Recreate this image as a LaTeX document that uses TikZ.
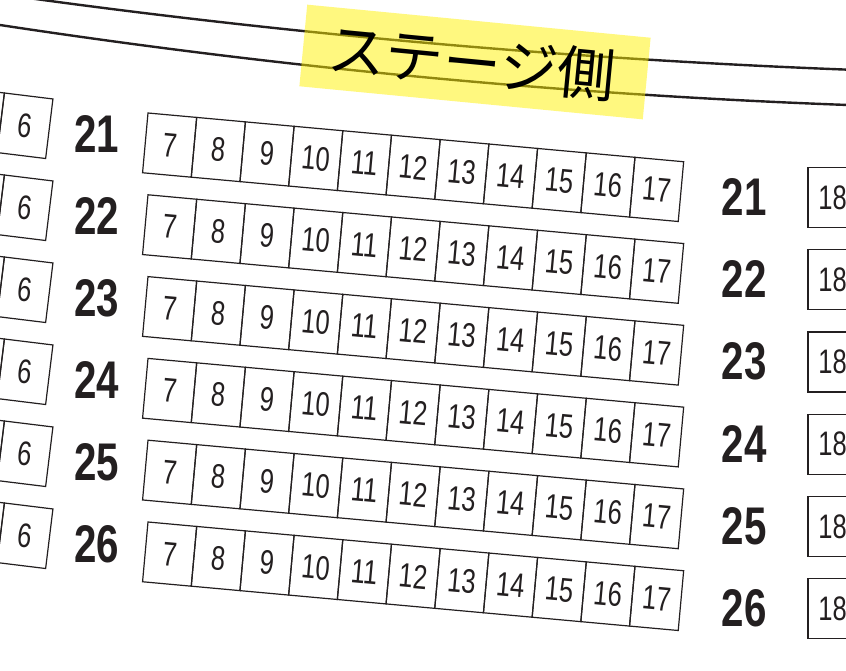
\documentclass[tikz,border=0pt]{standalone}
\usepackage{fontspec}
\usepackage{xcolor}
\usepackage{tikz}
\setmainfont{Liberation Sans}
\newfontfamily\seatfont[FakeStretch=0.75]{Liberation Sans}
\newfontfamily\rowfont[FakeStretch=0.76]{Liberation Sans}
\newfontfamily\cjkfont{Noto Sans CJK JP}
\definecolor{ink}{HTML}{231F20}

\begin{document}
\begin{tikzpicture}[x=1pt,y=-1pt,
  seat/.style={draw=ink, line width=1.2pt, minimum width=48.9pt, minimum height=60pt,
    inner sep=0pt, text=ink, font=\seatfont\fontsize{34}{34}\selectfont},
  rowno/.style={inner sep=0pt, text=ink, font=\rowfont\bfseries\fontsize{53}{53}\selectfont},
  stageline/.style={draw=ink, line width=2.4pt}]
\useasboundingbox (0,0) rectangle (846,670);
\clip (0,0) rectangle (846,670);
\fill [white] (0,0) rectangle (846,670);
% stage edge
\draw [stageline] plot[domain=-30:880, samples=60] (\x, {-5.9+14*(\x/100)-0.6*(\x/100)^2});
\draw [stageline] plot[domain=-30:880, samples=60] (\x, {25+15.2*(\x/100)-0.68*(\x/100)^2});
\node [fill=yellow, fill opacity=0.5, minimum width=345pt, minimum height=82pt, rotate=-5.5] (stage) at (475,62) {};
\node [inner sep=0pt, text=black, font=\cjkfont\fontsize{58}{58}\selectfont, rotate=-5.5] (stagetext) at (472,62) {ステージ側};
% rows
\foreach \r [count=\i from 0] in {21,...,26}{
  % left block
  \begin{scope}[shift={(4.4,93+82*\i)}, rotate=-7, transform shape]
    \node [seat] (a\r-5) at (-24.45,30) {};
    \node [seat] (a\r-6) at (24.45,30) {6};
  \end{scope}
  % centre block
  \begin{scope}[shift={(148,113+81.8*\i)}, rotate=-5.2, transform shape]
    \foreach \s [count=\j from 0] in {7,...,17}
      \node [seat] (b\r-\s) at ({24.45+48.9*\j},30) {\s};
  \end{scope}
  % right block
  \node [seat] (c\r-18) at (832.5,197.5+82.2*\i) {18};
  \node [rowno] (lrow\r) at (97,134+82*\i) {\r};
  \node [rowno] (rrow\r) at (744,197+82.2*\i) {\r};
}
\end{tikzpicture}
\end{document}
